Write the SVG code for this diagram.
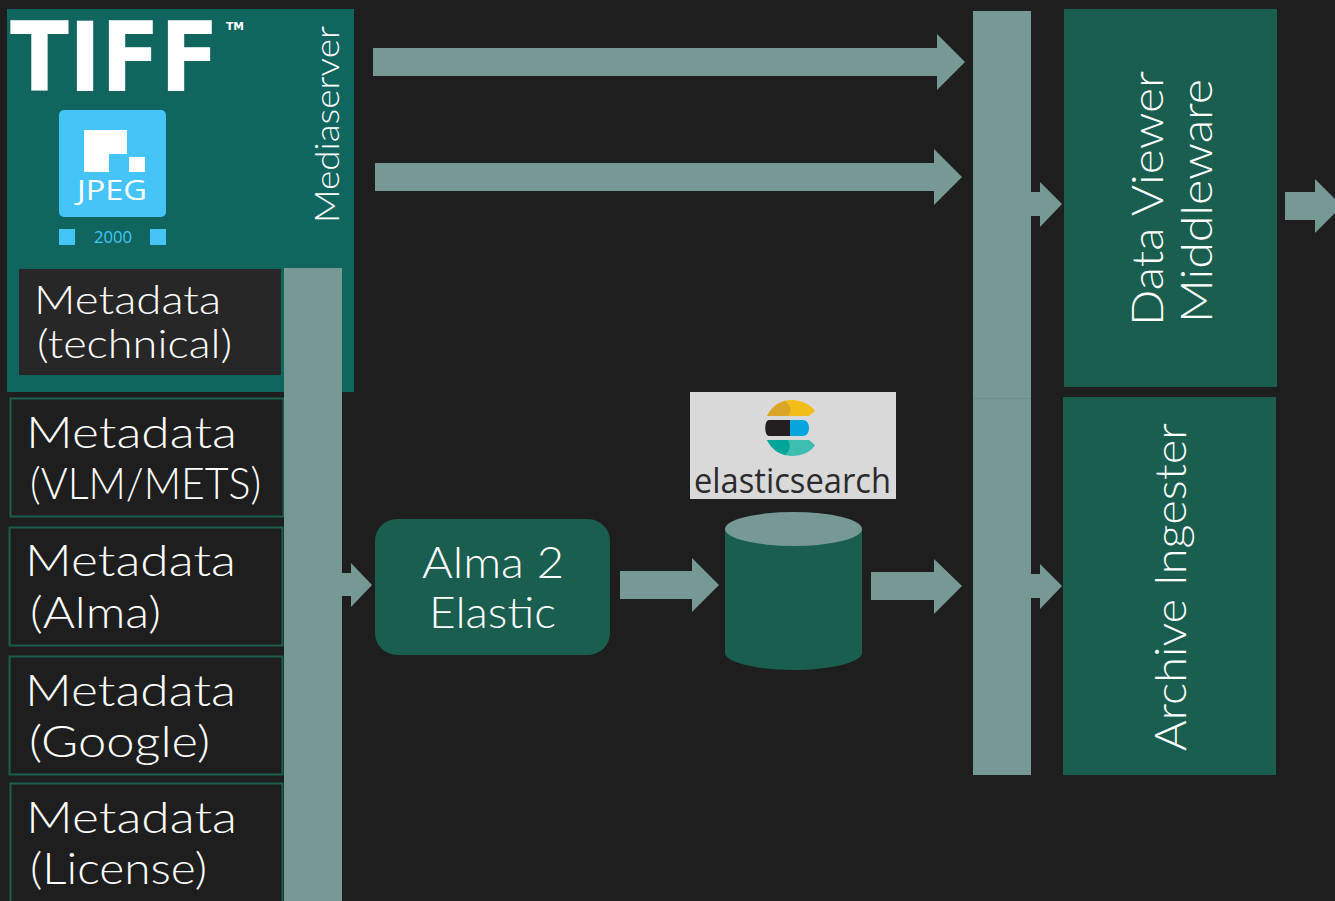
<svg xmlns="http://www.w3.org/2000/svg" width="1335" height="901" viewBox="0 0 1335 901">
<style>
.t{font-family:"Lato","Liberation Sans",sans-serif;font-weight:300;fill:#fff}
.m{font-size:43px}
.ar{fill:#769996}
.md{fill:#1e1e1e;stroke:#1a5e50;stroke-width:2}
.g{fill:#1a5e50}
.lg{font-family:"DejaVu Sans","Liberation Sans",sans-serif;font-weight:700;fill:#fff}
.j{font-family:"Open Sans","Liberation Sans",sans-serif;font-weight:400}
</style>
<rect width="1335" height="901" fill="#1e1e1e"/>
<g id="mediaserver">
<rect x="7" y="9" width="347" height="383" fill="#10655f"/>
<text class="lg" transform="translate(10 91) scale(.89 1)" font-size="97">TIFF</text>
<text class="lg" x="226" y="30" font-size="10" textLength="18" lengthAdjust="spacingAndGlyphs">TM</text>
<rect x="59" y="110" width="107" height="107" rx="5" fill="#44c4f7"/>
<path d="M84 130H127V154H109V172H84Z M129 157H145V172H129Z" fill="#fff"/>
<text class="j" x="77" y="200" font-size="27" fill="#fff" textLength="70" lengthAdjust="spacingAndGlyphs">JPEG</text>
<rect x="59" y="229" width="16" height="16" fill="#44c4f7"/>
<rect x="150" y="229" width="16" height="16" fill="#44c4f7"/>
<text class="j" x="94" y="243" font-size="17" fill="#44c4f7" textLength="38" lengthAdjust="spacingAndGlyphs">2000</text>
<text class="t" transform="translate(339 223) rotate(-90)" font-size="33" textLength="197" lengthAdjust="spacingAndGlyphs">Mediaserver</text>
</g>
<g id="meta-technical">
<rect x="19" y="269" width="262" height="106" fill="#272727"/>
<text class="t" x="34" y="314" font-size="39" textLength="187" lengthAdjust="spacingAndGlyphs">Metadata</text>
<text class="t" x="37" y="358" font-size="39" textLength="195" lengthAdjust="spacingAndGlyphs">(technical)</text>
</g>
<g id="meta-vlm">
<rect class="md" x="10.500" y="398.500" width="273" height="118"/>
<text class="t m" x="26" y="448" textLength="211" lengthAdjust="spacingAndGlyphs">Metadata</text>
<text class="t m" x="30" y="499" textLength="231" lengthAdjust="spacingAndGlyphs">(VLM/METS)</text>
</g>
<g id="meta-alma">
<rect class="md" x="9.500" y="527.500" width="273" height="118"/>
<text class="t m" x="25" y="576" textLength="211" lengthAdjust="spacingAndGlyphs">Metadata</text>
<text class="t m" x="30" y="628" textLength="131" lengthAdjust="spacingAndGlyphs">(Alma)</text>
</g>
<g id="meta-google">
<rect class="md" x="9.500" y="656.500" width="273" height="118"/>
<text class="t m" x="25" y="706" textLength="211" lengthAdjust="spacingAndGlyphs">Metadata</text>
<text class="t m" x="29" y="757" textLength="181" lengthAdjust="spacingAndGlyphs">(Google)</text>
</g>
<g id="meta-license">
<rect class="md" x="10.500" y="783.500" width="272" height="130"/>
<text class="t m" x="26" y="833" textLength="211" lengthAdjust="spacingAndGlyphs">Metadata</text>
<text class="t m" x="30" y="884" textLength="177" lengthAdjust="spacingAndGlyphs">(License)</text>
</g>
<g id="connectors">
<rect class="ar" x="284" y="268" width="58" height="633"/>
<rect class="ar" x="973" y="11" width="58" height="764"/>
<path d="M973 398.500H1031" stroke="#6d8f8c" stroke-width="1" fill="none"/>
<path class="ar" d="M342 573H351V563L372 585L351 607V596H342Z"/>
<path class="ar" d="M373 48H937V34L965 62L937 90V76H373Z"/>
<path class="ar" d="M375 163H934V149L962 177L934 205V191H375Z"/>
<path class="ar" d="M1031 192H1040V182L1062 204L1040 227V216H1031Z"/>
<path class="ar" d="M1031 574H1040V564L1062 586L1040 609V598H1031Z"/>
<path class="ar" d="M1285 192H1315V179L1342 206L1315 233V220H1285Z"/>
<path class="ar" d="M620 571H692V558L719 585L692 612V599H620Z"/>
<path class="ar" d="M871 572H934V559L962 586L934 614V600H871Z"/>
</g>
<g id="data-viewer">
<rect class="g" x="1064" y="9" width="213" height="378"/>
<text class="t" transform="translate(1163 326) rotate(-90)" font-size="44" textLength="255" lengthAdjust="spacingAndGlyphs">Data Viewer</text>
<text class="t" transform="translate(1212 323) rotate(-90)" font-size="44" textLength="244" lengthAdjust="spacingAndGlyphs">Middleware</text>
</g>
<g id="archive-ingester">
<rect class="g" x="1063" y="397" width="213" height="378"/>
<text class="t" transform="translate(1186 751) rotate(-90)" font-size="44" textLength="328" lengthAdjust="spacingAndGlyphs">Archive Ingester</text>
</g>
<g id="alma2elastic">
<rect class="g" x="375" y="519" width="235" height="136" rx="22"/>
<text class="t m" x="422" y="578" textLength="142" lengthAdjust="spacingAndGlyphs">Alma 2</text>
<text class="t m" x="429" y="628" textLength="127" lengthAdjust="spacingAndGlyphs">Elastic</text>
</g>
<g id="elasticsearch-logo">
<rect x="690" y="392" width="206" height="107" fill="#d9d9d9"/>
<path d="M767 416C773 404 782 400 792 400C802 400 811 405 815 411L809 416Z" fill="#f3bd19"/>
<path d="M767 416C771 408 777 403 785 401C790 405 793 410 788 416Z" fill="#dba628"/>
<path d="M769 420H790V436H769C764 436 764 420 769 420Z" fill="#231f20"/>
<path d="M790 420H803C811 420 811 436 803 436H790Z" fill="#07a5de"/>
<path d="M767 440H809L815 445C811 452 802 456 792 456C782 456 773 451 767 440Z" fill="#3ebeb0"/>
<path d="M767 440H788C791 446 790 451 785 455C777 453 771 448 767 440Z" fill="#00a59a"/>
<text x="694" y="493" font-family="'Open Sans','Liberation Sans',sans-serif" font-size="35" fill="#2b2b2d" textLength="197" lengthAdjust="spacingAndGlyphs">elasticsearch</text>
</g>
<g id="database">
<path class="g" d="M725 529V653C725 662 756 670 793.500 670C831 670 862 662 862 653V529Z"/>
<ellipse cx="793.500" cy="529" rx="68.500" ry="17" fill="#769996"/>
</g>
</svg>
